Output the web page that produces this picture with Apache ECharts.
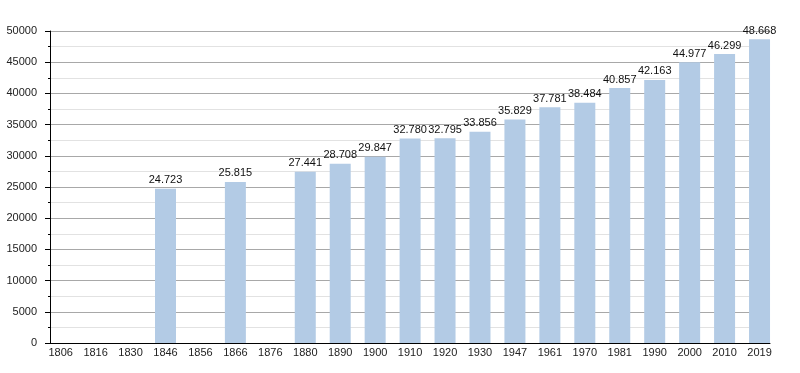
<!DOCTYPE html>
<html><head><meta charset="utf-8">
<script src="https://cdn.jsdelivr.net/npm/echarts@6/dist/echarts.min.js"></script>
<style>html,body{margin:0;padding:0;background:#fff}#c{width:800px;height:373px}</style>
</head><body><div id="c"></div>
<script>
var years = ['1806','1816','1830','1846','1856','1866','1876','1880','1890','1900','1910','1920','1930','1947','1961','1970','1981','1990','2000','2010','2019'];
var population = [null,null,null,24723,null,25815,null,27441,28708,29847,32780,32795,33856,35829,37781,38484,40857,42163,44977,46299,48668];
var yMin = 0, yMax = 50000, yStep = 5000;

function fmt(v){ return String(v).replace(/\B(?=(\d{3})+(?!\d))/g, '.'); }

var chart = echarts.init(document.getElementById('c'), null, {renderer:'canvas'});
var font = 'Liberation Sans, Arial, sans-serif';
chart.setOption({
  animation:false,
  grid:[
    {left:50, right:30, top:31, bottom:30},
    {left:43.2, right:23, top:31, bottom:30}
  ],
  xAxis:[
    {gridIndex:0, type:'category', data:years, boundaryGap:true,
     axisLine:{show:true, lineStyle:{color:'#000', width:1}}, axisTick:{show:false}, axisLabel:{show:false}, splitLine:{show:false}},
    {gridIndex:1, type:'category', data:years, boundaryGap:true,
     axisLine:{show:false}, axisTick:{show:false},
     axisLabel:{show:true, color:'#222', fontSize:11, fontFamily:font, margin:4, interval:0}}
  ],
  yAxis:[
    {gridIndex:0, type:'value', min:yMin, max:yMax, interval:yStep,
     axisLine:{show:true, lineStyle:{color:'#000', width:1}},
     axisTick:{show:true, length:5, lineStyle:{color:'#000'}},
     minorTick:{show:true, splitNumber:2, length:2, lineStyle:{color:'#000'}},
     axisLabel:{color:'#222', fontSize:11, fontFamily:font, margin:13, formatter:function(v){return String(v);}},
     splitLine:{show:true, lineStyle:{color:'#a8a8a8', width:1}},
     minorSplitLine:{show:true, lineStyle:{color:'#e2e2e2', width:1}}},
    {gridIndex:1, type:'value', min:yMin, max:yMax, interval:yStep, show:false, splitLine:{show:false}}
  ],
  series:[{
    type:'bar', xAxisIndex:1, yAxisIndex:1, data:population, barWidth:21,
    itemStyle:{color:'#b3cbe5'},
    label:{show:true, position:'top', distance:3, color:'#111', fontSize:11, fontFamily:font,
      formatter:function(p){ return p.value==null?'':fmt(p.value); }}
  }]
});
</script></body></html>
